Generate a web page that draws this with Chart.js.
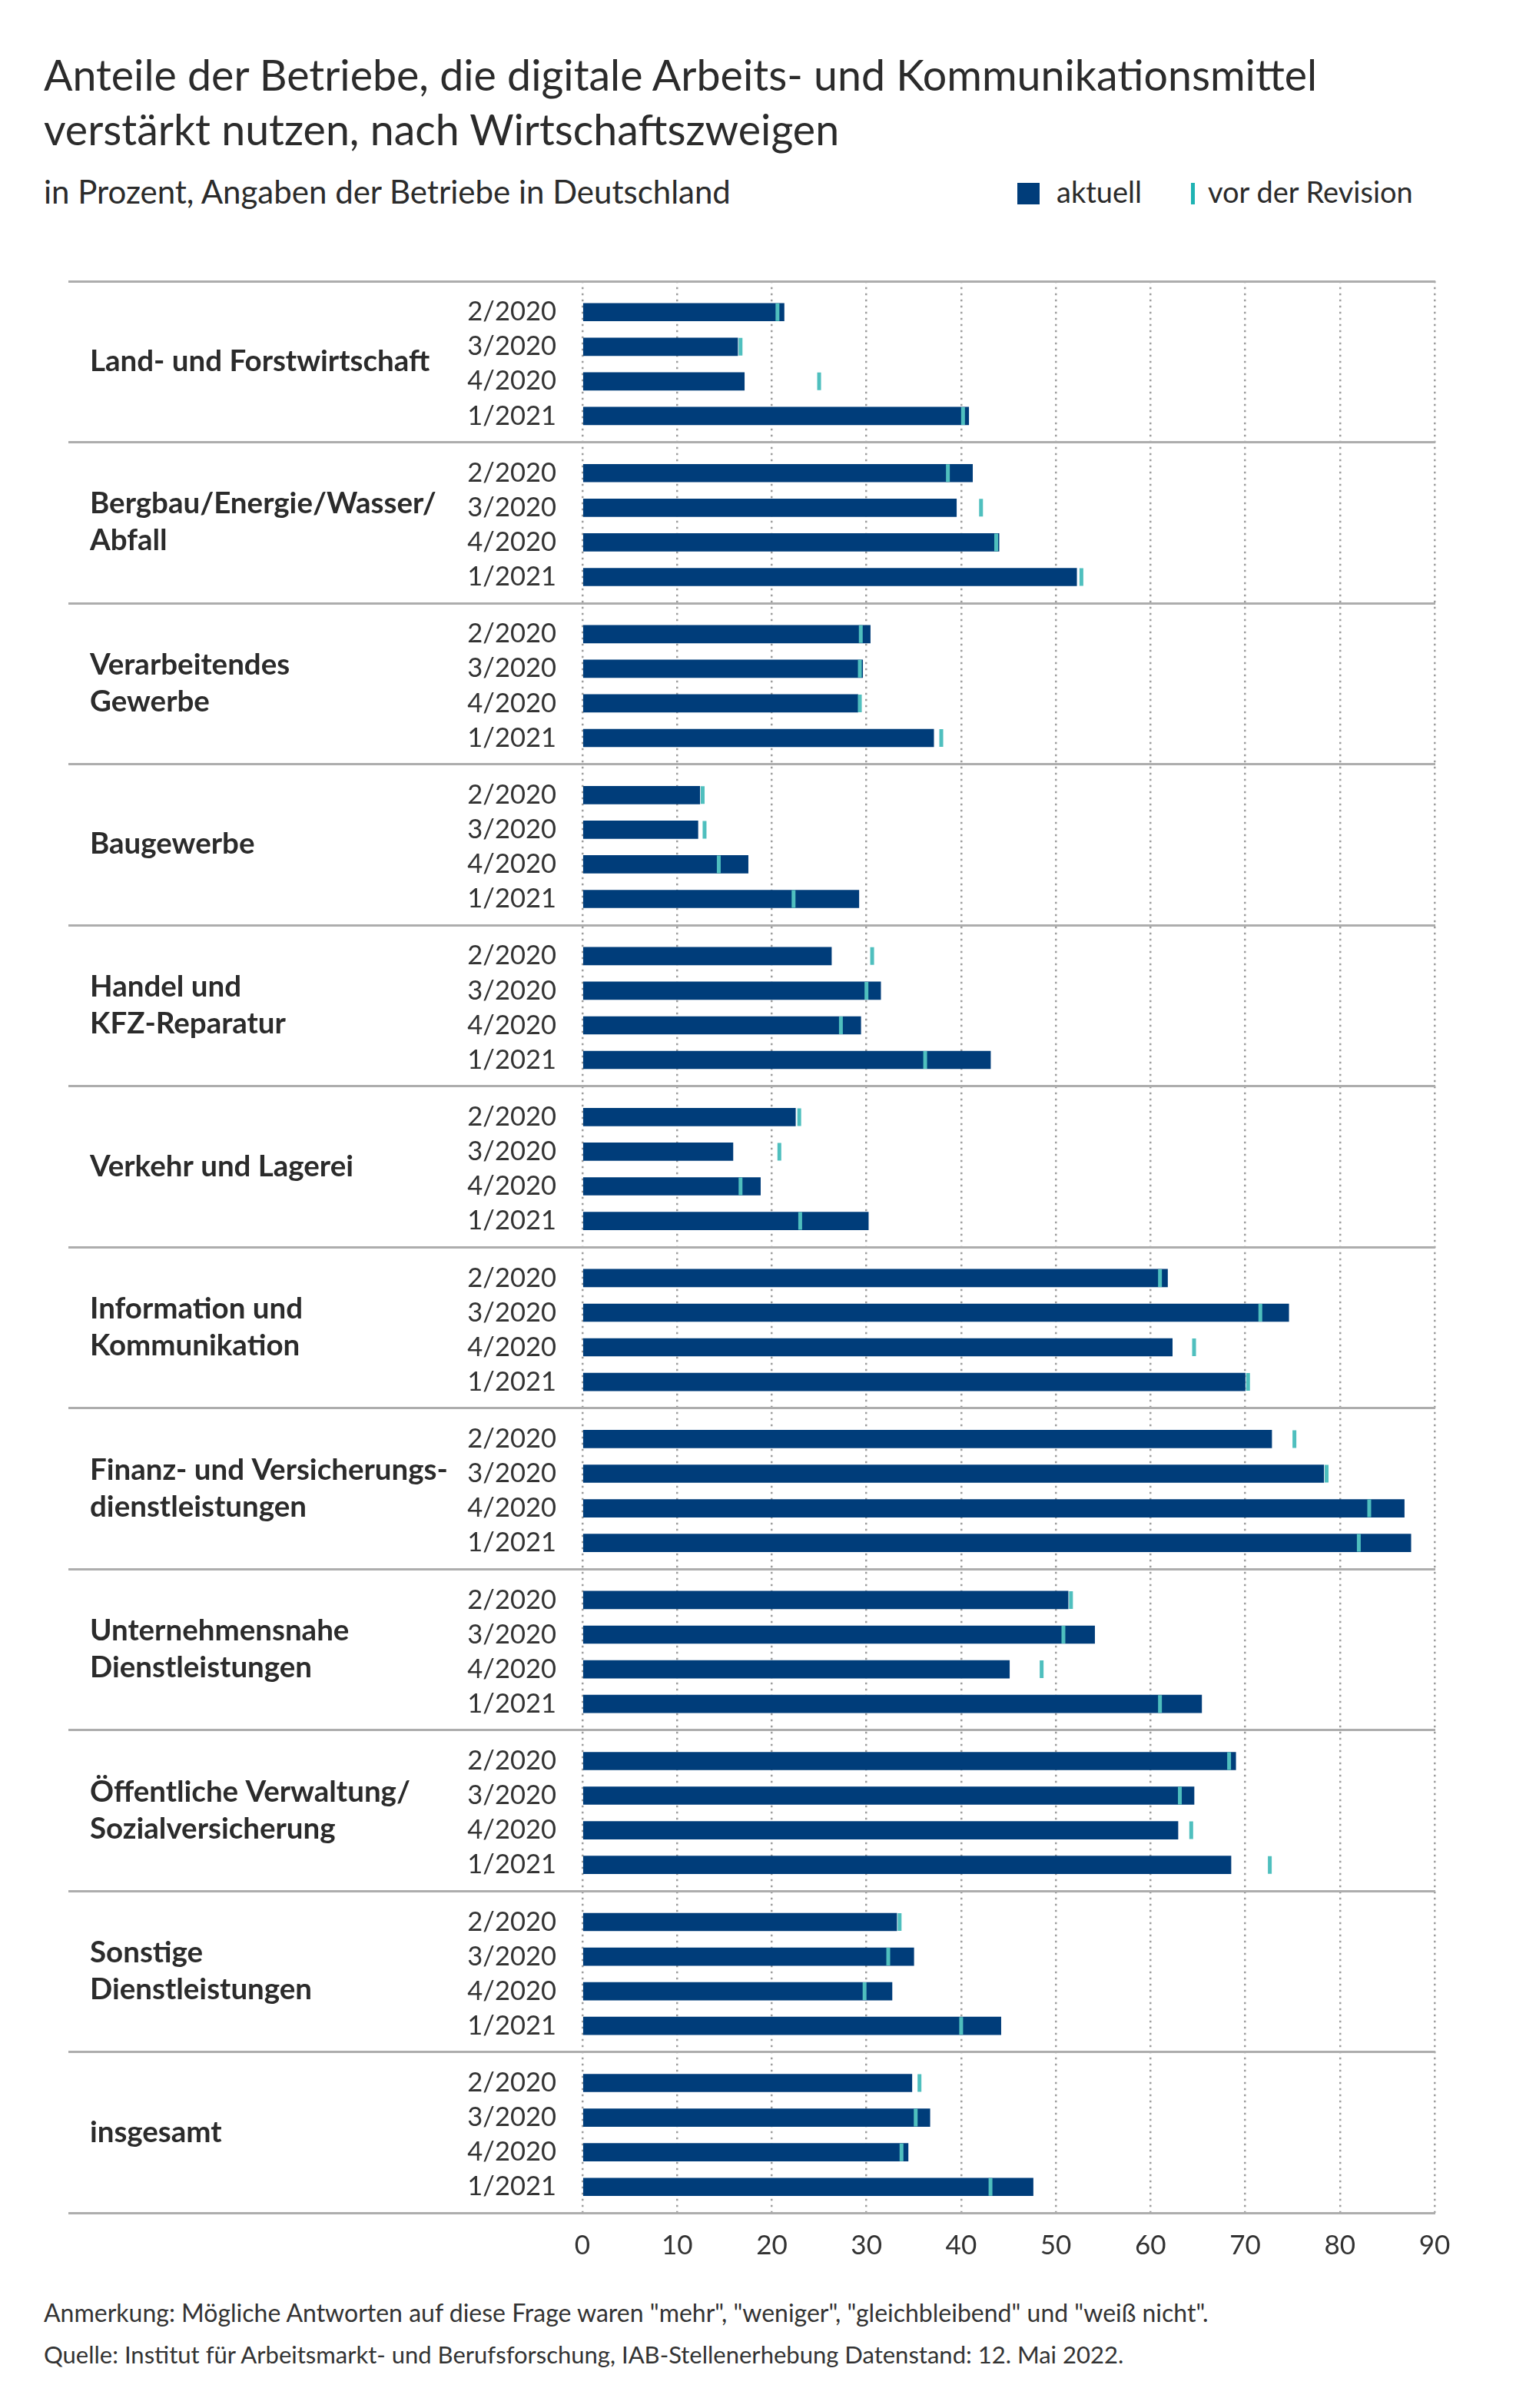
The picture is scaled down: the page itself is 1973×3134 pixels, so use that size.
<!DOCTYPE html>
<html lang="de">
<head>
<meta charset="utf-8">
<title>Digitale Arbeitsmittel nach Wirtschaftszweigen</title>
<script src="https://cdn.jsdelivr.net/npm/chart.js@4/dist/chart.umd.min.js"></script>
<style>
  html, body { margin: 0; padding: 0; background: #fff; }
  body { width: 1973px; height: 3134px; position: relative; font-family: Lato, "Noto Sans", sans-serif; color: #2b2b2b; }
  .abs { position: absolute; white-space: nowrap; }
  #title { left: 57px; top: 61px; font-size: 55.5px; line-height: 71px; }
  #subtitle { left: 57px; top: 224px; font-size: 42px; line-height: 1.2; }
  .legend-box { top: 238px; height: 28px; }
  .legend-text { top: 227px; font-size: 38px; line-height: 1.2; }
  #chart-wrap { position: absolute; left: 0; top: 311px; width: 1973px; height: 2649px; }
  #footer { left: 57px; top: 2986px; line-height: 48px; color: #333; }
</style>
</head>
<body>
<div id="title" class="abs">Anteile der Betriebe, die digitale Arbeits- und Kommunikationsmittel<br>verstärkt nutzen, nach Wirtschaftszweigen</div>
<div id="subtitle" class="abs">in Prozent, Angaben der Betriebe in Deutschland</div>

<div class="abs legend-box" style="left:1324px; width:29px; background:#003d7a;"></div>
<div class="abs legend-text" style="left:1375px;">aktuell</div>
<div class="abs legend-box" style="left:1550px; width:5px; background:#1fb3b3;"></div>
<div class="abs legend-text" style="left:1572px;">vor der Revision</div>

<div id="chart-wrap"><canvas id="chart" width="1973" height="2649"></canvas></div>

<div id="footer" class="abs"><span style="font-size:32px">Anmerkung: Mögliche Antworten auf diese Frage waren "mehr", "weniger", "gleichbleibend" und "weiß nicht".</span><br><span style="font-size:31px">Quelle: Institut für Arbeitsmarkt- und Berufsforschung, IAB-Stellenerhebung Datenstand: 12. Mai 2022.</span></div>

<script>
// Wirtschaftszweige (Gruppen), von oben nach unten
const SECTORS = [
  ["Land- und Forstwirtschaft"],
  ["Bergbau/Energie/Wasser/", "Abfall"],
  ["Verarbeitendes", "Gewerbe"],
  ["Baugewerbe"],
  ["Handel und", "KFZ-Reparatur"],
  ["Verkehr und Lagerei"],
  ["Information und", "Kommunikation"],
  ["Finanz- und Versicherungs-", "dienstleistungen"],
  ["Unternehmensnahe", "Dienstleistungen"],
  ["Öffentliche Verwaltung/", "Sozialversicherung"],
  ["Sonstige", "Dienstleistungen"],
  ["insgesamt"]
];

const PERIODS = ["2/2020", "3/2020", "4/2020", "1/2021"];

// aktuell, je Wirtschaftszweig: 2/2020, 3/2020, 4/2020, 1/2021
const AKTUELL = [
  [21.3, 16.4, 17.1, 40.8],
  [41.2, 39.5, 44.0, 52.2],
  [30.4, 29.6, 29.1, 37.1],
  [12.4, 12.2, 17.5, 29.2],
  [26.3, 31.5, 29.4, 43.1],
  [22.5, 15.9, 18.8, 30.2],
  [61.8, 74.6, 62.3, 70.0],
  [72.8, 78.3, 86.8, 87.5],
  [51.3, 54.1, 45.1, 65.4],
  [69.0, 64.6, 62.9, 68.5],
  [33.2, 35.0, 32.7, 44.2],
  [34.8, 36.7, 34.4, 47.6]
];

// vor der Revision
const REVISION = [
  [20.6, 16.7, 25.0, 40.2],
  [38.6, 42.1, 43.7, 52.7],
  [29.4, 29.3, 29.3, 37.9],
  [12.7, 12.9, 14.4, 22.3],
  [30.6, 30.0, 27.3, 36.2],
  [22.9, 20.8, 16.7, 23.0],
  [61.0, 71.6, 64.6, 70.3],
  [75.2, 78.6, 83.1, 82.0],
  [51.6, 50.8, 48.5, 61.0],
  [68.3, 63.1, 64.3, 72.6],
  [33.5, 32.3, 29.8, 40.0],
  [35.6, 35.2, 33.7, 43.1]
];

const X_TICKS = [0, 10, 20, 30, 40, 50, 60, 70, 80, 90];

// vertical layout in "rows": each group is 4.65 rows, first bar 0.9 rows below the group line
const GROUP_ROWS = 4.65;
const FIRST_ROW = 0.9;
const MAX_ROWS = SECTORS.length * GROUP_ROWS;

const BLUE = "#003d7a";
const TEAL = "#4fbfbe";
const TEXT = "#333333";
const FONT = "Lato, 'Noto Sans', sans-serif";

const rowPos = (g, p) => g * GROUP_ROWS + FIRST_ROW + p;

const barData = [];
const revData = [];
const rowTicks = [];
AKTUELL.forEach((vals, g) => {
  vals.forEach((v, p) => {
    barData.push({ x: v, y: rowPos(g, p) });
    revData.push({ x: REVISION[g][p], y: rowPos(g, p) });
    rowTicks.push(rowPos(g, p));
  });
});

// Trennlinien und Namen der Wirtschaftszweige links
const groupLabels = {
  id: "groupLabels",
  beforeDatasetsDraw(chart) {
    const y = chart.scales.y;
    const ctx = chart.ctx;
    ctx.save();
    ctx.strokeStyle = "#adadad";
    ctx.lineWidth = 3;
    for (let i = 0; i <= SECTORS.length; i++) {
      const py = Math.round(y.getPixelForValue(i * GROUP_ROWS)) + 0.5;
      ctx.beginPath();
      ctx.moveTo(89, py);
      ctx.lineTo(chart.chartArea.right + 1, py);
      ctx.stroke();
    }
    ctx.fillStyle = "#2b2b2b";
    ctx.font = "bold 38.5px " + FONT;
    ctx.textAlign = "left";
    ctx.textBaseline = "middle";
    const lh = 48;
    SECTORS.forEach((lines, g) => {
      const cy = y.getPixelForValue(g * GROUP_ROWS + GROUP_ROWS / 2);
      lines.forEach((t, k) => {
        ctx.fillText(t, 117, cy + (k - (lines.length - 1) / 2) * lh);
      });
    });
    ctx.restore();
  }
};

new Chart(document.getElementById("chart"), {
  type: "bar",
  data: {
    datasets: [
      {
        type: "scatter",
        label: "vor der Revision",
        data: revData,
        showLine: false,
        pointStyle: "line",
        rotation: 90,
        radius: 11.5,
        borderColor: TEAL,
        backgroundColor: TEAL,
        borderWidth: 5,
        order: 0
      },
      {
        type: "bar",
        label: "aktuell",
        data: barData,
        backgroundColor: BLUE,
        barThickness: 23,
        order: 1
      }
    ]
  },
  options: {
    responsive: false,
    animation: false,
    indexAxis: "y",
    layout: { padding: { left: 598, right: 106, top: 26, bottom: 0 } },
    plugins: { legend: { display: false }, tooltip: { enabled: false } },
    scales: {
      x: {
        type: "linear",
        position: "bottom",
        min: 0,
        max: 90,
        afterBuildTicks: (s) => { s.ticks = X_TICKS.map(v => ({ value: v })); },
        afterFit: (s) => { s.height = 80; },
        ticks: { color: TEXT, font: { family: FONT, size: 35 }, padding: 22, maxRotation: 0 },
        grid: { color: "#9d9d9d", lineWidth: 2.5, drawTicks: false },
        border: { display: false, dash: [2.5, 5.5] }
      },
      y: {
        type: "linear",
        position: "left",
        reverse: true,
        offset: false,
        min: 0,
        max: MAX_ROWS,
        afterBuildTicks: (s) => { s.ticks = rowTicks.map(v => ({ value: v })); },
        afterFit: (s) => { s.width = 160; },
        ticks: {
          autoSkip: false,
          color: TEXT,
          font: { family: FONT, size: 34.5 },
          padding: 34,
          callback: (v, i) => PERIODS[i % PERIODS.length]
        },
        grid: { display: false, drawTicks: false },
        border: { display: false }
      }
    }
  },
  plugins: [groupLabels]
});
</script>
</body>
</html>
